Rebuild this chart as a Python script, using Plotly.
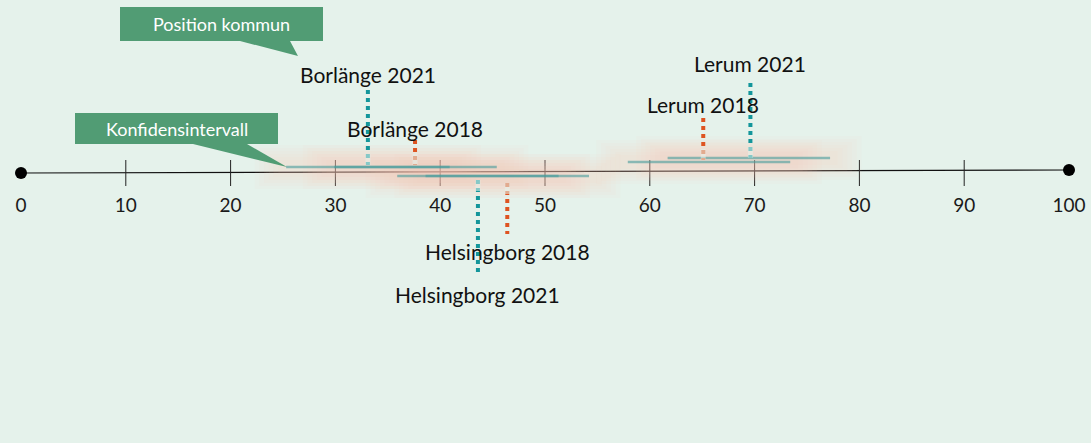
import plotly.graph_objects as go

# Data
kommun = ["Borlänge", "Borlänge", "Helsingborg", "Helsingborg", "Lerum", "Lerum"]
year = ["2021", "2018", "2021", "2018", "2021", "2018"]
position = [33.1, 37.6, 43.6, 46.4, 69.6, 65.1]
ci_low = [25.3, 29.9, 35.9, 38.6, 61.7, 57.9]
ci_high = [40.9, 45.4, 51.3, 54.2, 77.2, 73.4]
tick_values = [0, 10, 20, 30, 40, 50, 60, 70, 80, 90, 100]

# Layout (pixel rows, y axis runs in pixels top-down)
ci_row = [167, 167, 176, 176, 158, 162]
stem = [(90, 165), (140, 165), (180, 272), (183, 234), (83, 158), (118, 160)]
label_row = [74, 128, 294, 251, 63, 104]

BG = "#e5f2eb"
TEAL = "#13969b"
ORANGE = "#de5421"
CALLOUT = "#519c74"
W, H = 1091, 443

fig = go.Figure()

# soft glow behind the confidence intervals
for lo, hi, yy in zip(ci_low, ci_high, ci_row):
    for i, width in enumerate([44, 38, 32, 26, 20, 14]):
        pad = 3.0 - i * 0.45
        fig.add_trace(go.Scatter(
            x=[lo - pad, hi + pad], y=[yy, yy], mode="lines",
            line=dict(color="rgba(255,200,178,0.055)", width=width),
            hoverinfo="skip", showlegend=False))

# axis line and ticks
fig.add_shape(type="line", x0=0, x1=100, y0=173, y1=170,
              line=dict(color="#111", width=1.2), layer="below")
for t in tick_values[1:-1]:
    fig.add_shape(type="line", x0=t, x1=t, y0=160, y1=186,
                  line=dict(color="#222", width=1), layer="below")
fig.add_trace(go.Scatter(
    x=[0, 100], y=[173, 170], mode="markers",
    marker=dict(color="#000", size=12), hoverinfo="skip", showlegend=False))
fig.add_trace(go.Scatter(
    x=tick_values, y=[207] * len(tick_values), mode="text",
    text=[str(t) for t in tick_values],
    textfont=dict(family="Lato", size=19, color="#1a1a1a"),
    hoverinfo="skip", showlegend=False))

# confidence interval bars
for lo, hi, yy in zip(ci_low, ci_high, ci_row):
    fig.add_trace(go.Scatter(
        x=[lo, hi], y=[yy, yy], mode="lines",
        line=dict(color="rgba(70,155,155,0.6)", width=2.5),
        hoverinfo="skip", showlegend=False))

# position stems and labels
for k, yr, pos, (y0, y1), ly in zip(kommun, year, position, stem, label_row):
    col = TEAL if yr == "2021" else ORANGE
    fig.add_trace(go.Scatter(
        x=[pos, pos], y=[y0, y1], mode="lines",
        line=dict(color=col, width=4, dash="4px,4px"),
        hoverinfo="skip", showlegend=False))
    # fade the end next to the axis
    near = y1 if y1 < 170 else y0
    far = near - 22 if y1 < 170 else near + 22
    fig.add_trace(go.Scatter(
        x=[pos, pos], y=[near, (near + far) / 2], mode="lines",
        line=dict(color="rgba(229,242,235,0.55)", width=5),
        hoverinfo="skip", showlegend=False))
    fig.add_annotation(x=pos, y=ly, text=f"{k} {yr}", showarrow=False,
                       font=dict(family="Lato", size=21, color="#111"),
                       xanchor="center", yanchor="middle")

# callout boxes
def px(v):
    return v / W

callouts = [
    ("Position kommun", (120, 323, 7, 41), [(240, 41), (298, 56), (290, 41)]),
    ("Konfidensintervall", (75, 278, 113, 144), [(193, 144), (287, 167), (247, 144)]),
]
for txt, (x0, x1, y0, y1), tail in callouts:
    fig.add_shape(type="rect", xref="paper", yref="y",
                  x0=px(x0), x1=px(x1), y0=y0, y1=y1,
                  fillcolor=CALLOUT, line=dict(width=0))
    path = "M " + " L ".join(f"{px(a)},{b}" for a, b in tail) + " Z"
    fig.add_shape(type="path", xref="paper", yref="y", path=path,
                  fillcolor=CALLOUT, line=dict(width=0))
    fig.add_annotation(xref="paper", yref="y", x=px((x0 + x1) / 2),
                       y=(y0 + y1) / 2, text=txt, showarrow=False,
                       xanchor="center", yanchor="middle",
                       font=dict(family="Lato", size=18, color="white"))

fig.update_layout(
    width=W, height=H,
    margin=dict(l=0, r=0, t=0, b=0),
    paper_bgcolor=BG, plot_bgcolor=BG,
    xaxis=dict(range=[-21 / 10.48, 100 + 22 / 10.48], visible=False,
               fixedrange=True),
    yaxis=dict(range=[H, 0], visible=False, fixedrange=True),
    showlegend=False,
)

fig.write_html("out.html", config={"displayModeBar": False},
               post_script="document.body.style.margin='0';")
